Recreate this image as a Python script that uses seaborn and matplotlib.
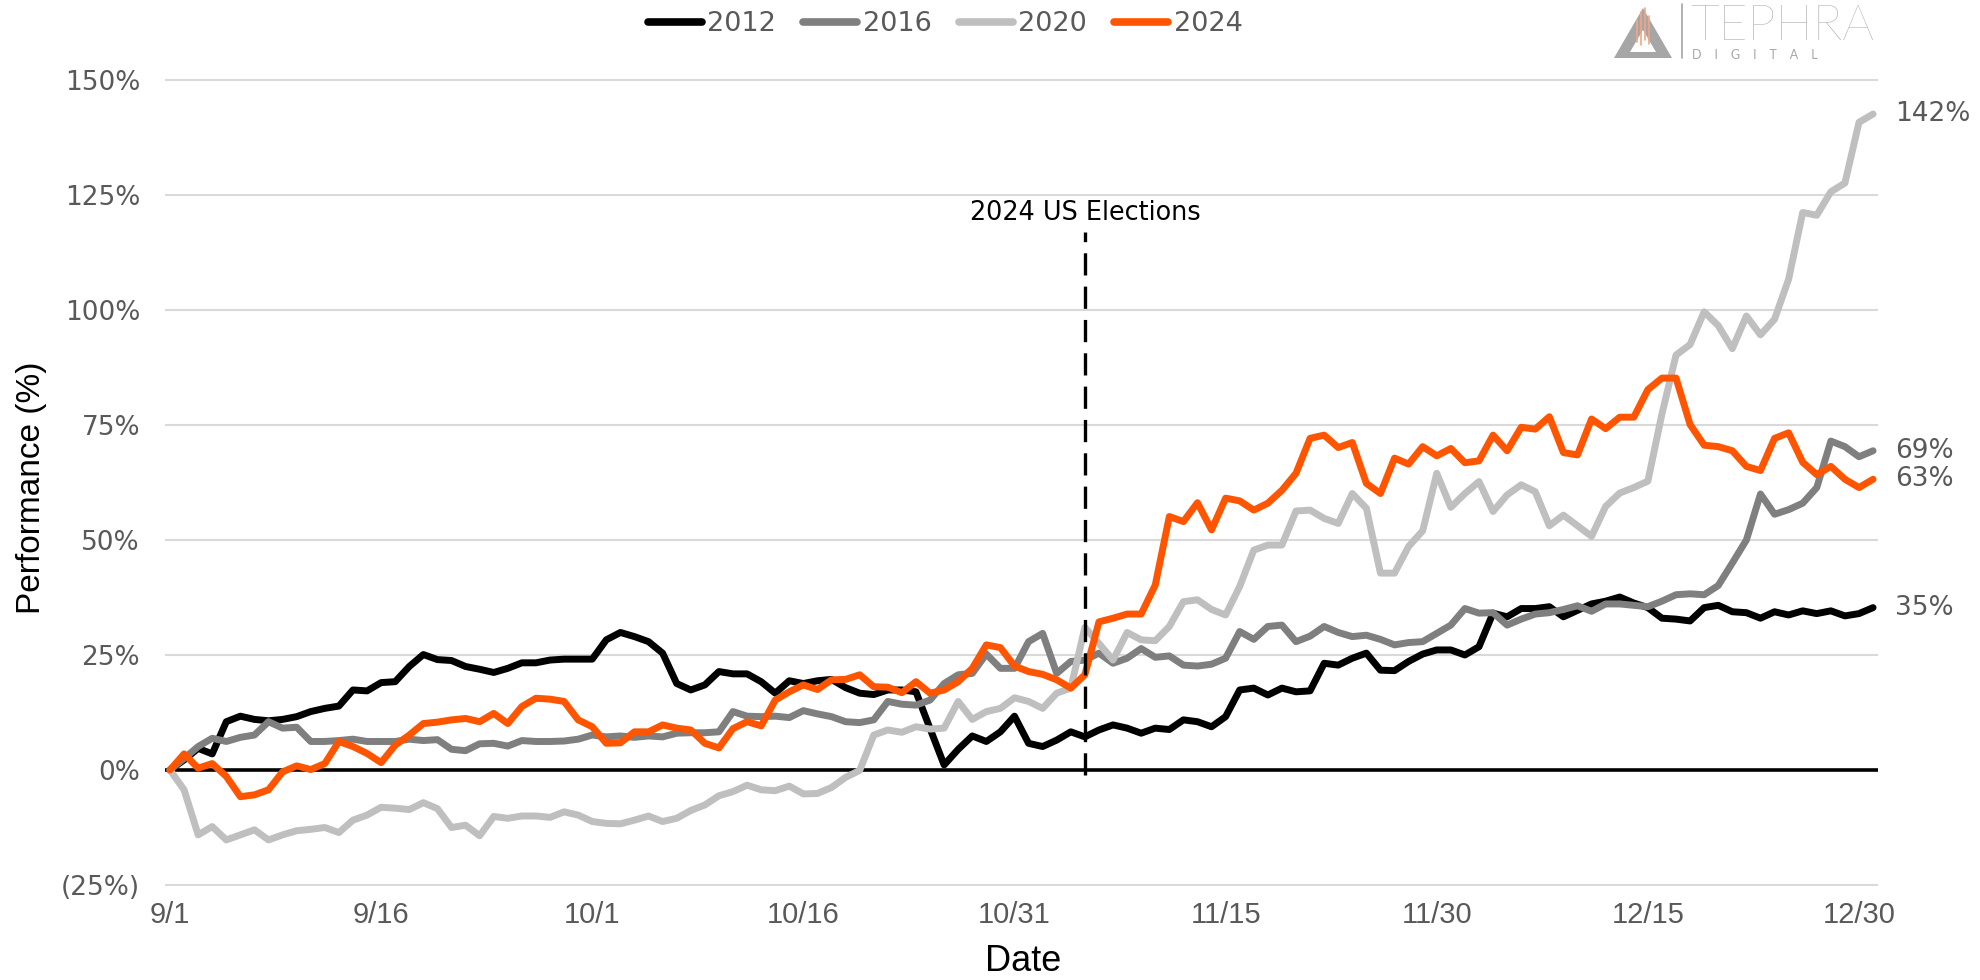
import matplotlib
matplotlib.use("Agg")
import matplotlib.pyplot as plt
import seaborn as sns
import pandas as pd
import numpy as np
from matplotlib import font_manager
from matplotlib.patches import Polygon
from matplotlib.lines import Line2D

# ---------------- data ----------------
n_days = 122
days = list(range(n_days))

y2012 = [0, 2.2, 4.7, 3.5, 10.5, 11.7, 11.0, 10.7, 11.0, 11.6,
         12.7, 13.4, 13.9, 17.4, 17.2, 19.0, 19.2, 22.5, 25.1, 24.0,
         23.8, 22.5, 21.9, 21.2, 22.1, 23.3, 23.3, 23.9, 24.1, 24.1,
         24.1, 28.3, 29.9, 29.0, 27.9, 25.4, 18.8, 17.4, 18.5, 21.4,
         20.9, 20.9, 19.2, 16.7, 19.4, 18.8, 19.4, 19.7, 17.9, 16.7,
         16.4, 17.4, 17.4, 17.0, 9.0, 1.1, 4.5, 7.4, 6.2, 8.3,
         11.7, 5.8, 5.1, 6.5, 8.3, 7.2, 8.7, 9.8, 9.1, 8.0,
         9.1, 8.8, 10.9, 10.5, 9.4, 11.6, 17.4, 17.8, 16.3, 17.8,
         17.0, 17.2, 23.2, 22.8, 24.3, 25.4, 21.7, 21.6, 23.6, 25.2,
         26.1, 26.1, 25.0, 26.8, 34.1, 33.3, 35.1, 35.1, 35.5, 33.3,
         34.7, 36.1, 36.7, 37.6, 36.3, 35.3, 33.0, 32.8, 32.4, 35.3,
         35.8, 34.4, 34.2, 33.0, 34.4, 33.7, 34.6, 34.0, 34.6, 33.5,
         34.0, 35.3]

y2016 = [0, 2.5, 5.1, 6.9, 6.2, 7.1, 7.6, 10.5, 9.1, 9.3,
         6.2, 6.2, 6.4, 6.7, 6.2, 6.2, 6.2, 6.7, 6.4, 6.6,
         4.5, 4.2, 5.7, 5.8, 5.2, 6.4, 6.2, 6.2, 6.3, 6.7,
         7.6, 7.2, 7.4, 7.1, 7.4, 7.2, 8.0, 8.1, 8.1, 8.3,
         12.7, 11.7, 11.6, 11.7, 11.4, 12.9, 12.2, 11.6, 10.5, 10.3,
         10.9, 14.9, 14.3, 14.1, 15.2, 18.8, 20.7, 21.0, 25.2, 22.1,
         22.1, 27.9, 29.7, 21.0, 23.6, 23.9, 25.4, 23.2, 24.3, 26.4,
         24.5, 24.8, 22.8, 22.6, 23.0, 24.3, 30.1, 28.4, 31.2, 31.5,
         27.9, 29.1, 31.2, 29.9, 29.0, 29.3, 28.4, 27.2, 27.7, 27.9,
         29.7, 31.5, 35.1, 34.1, 34.2, 31.5, 32.8, 33.9, 34.2, 34.9,
         35.7, 34.5, 36.1, 36.1, 35.8, 35.5, 36.7, 38.1, 38.3, 38.1,
         40.1, 45.0, 50.0, 60.0, 55.6, 56.6, 58.0, 61.4, 71.5, 70.3,
         68.1, 69.4]

y2020 = [0, -4.3, -14.1, -12.3, -15.2, -14.1, -13.0, -15.2, -14.1, -13.2,
         -12.9, -12.5, -13.6, -10.9, -9.8, -8.1, -8.3, -8.6, -7.1, -8.4,
         -12.5, -12.0, -14.3, -10.1, -10.5, -10.0, -10.0, -10.3, -9.1, -9.8,
         -11.2, -11.6, -11.7, -10.9, -10.0, -11.2, -10.5, -8.8, -7.6, -5.6,
         -4.7, -3.3, -4.3, -4.5, -3.5, -5.2, -5.1, -3.8, -1.6, -0.1,
         7.6, 8.7, 8.2, 9.4, 8.9, 9.1, 14.9, 11.0, 12.7, 13.4,
         15.7, 14.9, 13.4, 16.7, 17.8, 31.0, 27.5, 23.9, 29.9, 28.3,
         28.1, 31.2, 36.6, 37.0, 34.9, 33.7, 39.9, 47.8, 48.9, 48.9,
         56.3, 56.5, 54.7, 53.6, 60.1, 56.9, 42.8, 42.8, 48.6, 52.0,
         64.5, 57.1, 60.1, 62.7, 56.2, 59.8, 62.0, 60.5, 53.1, 55.4,
         53.1, 50.8, 57.3, 60.2, 61.4, 62.8, 77.4, 90.2, 92.5, 99.6,
         96.6, 91.6, 98.7, 94.6, 98.0, 106.7, 121.2, 120.6, 125.7, 127.6,
         140.8, 142.6]

y2024 = [0, 3.5, 0.4, 1.4, -1.4, -5.8, -5.4, -4.3, -0.4, 0.9,
         0.1, 1.4, 6.2, 5.1, 3.6, 1.6, 5.4, 7.6, 10.1, 10.4,
         10.9, 11.2, 10.5, 12.3, 10.1, 13.8, 15.6, 15.4, 14.9, 10.9,
         9.4, 5.8, 5.9, 8.3, 8.3, 9.8, 9.1, 8.7, 5.8, 4.8,
         9.0, 10.5, 9.6, 15.2, 17.0, 18.5, 17.5, 19.6, 19.7, 20.7,
         18.1, 18.0, 16.8, 19.2, 16.7, 17.4, 19.2, 22.1, 27.2, 26.6,
         22.6, 21.4, 20.8, 19.6, 17.8, 20.7, 32.2, 33.0, 33.9, 33.9,
         40.2, 55.1, 54.0, 58.1, 52.2, 59.1, 58.5, 56.5, 58.0, 60.8,
         64.5, 72.1, 72.8, 70.1, 71.2, 62.3, 60.1, 67.8, 66.5, 70.3,
         68.3, 69.9, 66.8, 67.2, 72.8, 69.4, 74.5, 74.1, 76.8, 69.0,
         68.5, 76.3, 74.2, 76.7, 76.7, 82.7, 85.2, 85.2, 75.1, 70.6,
         70.3, 69.4, 66.0, 65.1, 72.1, 73.3, 66.9, 64.2, 66.0, 63.2,
         61.4, 63.2]

years = ["2012", "2016", "2020", "2024"]
end_labels = ["35%", "69%", "142%", "63%"]
x_tick_days = [0, 15, 30, 45, 60, 75, 90, 105, 120]
x_tick_labels = ["9/1", "9/16", "10/1", "10/16", "10/31", "11/15", "11/30", "12/15", "12/30"]
y_tick_vals = [-25, 0, 25, 50, 75, 100, 125, 150]
y_tick_labels = ["(25%)", "0%", "25%", "50%", "75%", "100%", "125%", "150%"]
election_day = 65
election_label = "2024 US Elections"

colors = {"2012": "#000000", "2016": "#7f7f7f", "2020": "#bfbfbf", "2024": "#ff5500"}

df = pd.DataFrame({
    "day": days * 4,
    "perf": y2012 + y2016 + y2020 + y2024,
    "year": np.repeat(years, n_days),
})

# ---------------- style ----------------
sns.set_theme(style="white")
plt.rcParams["font.family"] = ["DejaVu Sans"]
plt.rcParams["lines.scale_dashes"] = False

names = {f.name for f in font_manager.fontManager.ttflist}
sans2 = "Liberation Sans" if "Liberation Sans" in names else "DejaVu Sans"
logo_font = "Lato" if "Lato" in names else "DejaVu Sans"

W, H = 1980, 980
fig = plt.figure(figsize=(W / 100, H / 100), dpi=100)

# axes placement (pixel geometry of reference)
x0_px, x1_px = 165, 1878
ylo, yhi = -25.4, 150.4
px_per_pct = 115 / 25.0
y_bottom_px = 770 + (0 - ylo) * px_per_pct
y_top_px = 770 - yhi * px_per_pct
ax = fig.add_axes([x0_px / W, 1 - y_bottom_px / H, (x1_px - x0_px) / W,
                   (y_bottom_px - y_top_px) / H])

sns.lineplot(data=df, x="day", y="perf", hue="year", palette=colors,
             linewidth=5.0, ax=ax, legend=False, sort=False, zorder=3)
for ln in ax.lines:
    ln.set_solid_joinstyle("round")
    ln.set_solid_capstyle("round")

ax.set_xlim(-0.355, 121.35)
ax.set_ylim(ylo, yhi)

for s in ax.spines.values():
    s.set_visible(False)

ax.set_yticks(y_tick_vals)
ax.set_yticklabels(y_tick_labels)
ax.set_xticks(x_tick_days)
ax.set_xticklabels(x_tick_labels)
ax.tick_params(axis="y", length=0, pad=18, labelsize=19, labelcolor="#595959")
ax.tick_params(axis="x", length=0, pad=10, labelsize=21, labelcolor="#595959")
for t in ax.get_xticklabels():
    t.set_fontfamily(sans2)

ax.grid(False)
for v in y_tick_vals:
    if v != 0:
        ax.axhline(v, color="#d9d9d9", lw=1.5, zorder=1)
ax.axhline(0, color="black", lw=2.6, zorder=2)

# election marker
ax.vlines(election_day, -1, 117, colors="black", lw=2.4,
          linestyles=[(0, (16, 8))], zorder=4)
ax.text(election_day, 121, election_label, ha="center", va="center",
        fontsize=18.4, color="black", zorder=5)

# end labels
series = [y2012, y2016, y2020, y2024]
for vals, lab in zip(series, end_labels):
    ax.annotate(lab, xy=(days[-1], vals[-1]), xytext=(22, 0),
                textcoords="offset pixels", ha="left", va="center",
                fontsize=19, color="#595959", annotation_clip=False)

ax.set_xlabel("")
ax.set_ylabel("")
fig.text(1023 / W, 1 - 961 / H, "Date", ha="center", va="center",
         fontsize=26, family=sans2, color="black")
fig.text(32 / W, 1 - 488 / H, "Performance (%)", ha="center", va="center",
         rotation=90, fontsize=24, family=sans2, color="black")

# legend
handles = [Line2D([0], [0], color=colors[y], lw=5.5, solid_capstyle="round") for y in years]
fig.legend(handles, years, loc="center", bbox_to_anchor=(945 / W, 1 - 24 / H),
           ncol=4, frameon=False, fontsize=19.5, handlelength=2.0,
           handletextpad=0.2, columnspacing=1.0, labelcolor="#595959")

# logo
tri_outer = Polygon([(1614 / W, 1 - 58 / H), (1643 / W, 1 - 8 / H), (1672 / W, 1 - 58 / H)],
                    closed=True, transform=fig.transFigure, facecolor="#a6a6a6",
                    edgecolor="none")
tri_inner = Polygon([(1630 / W, 1 - 52 / H), (1643 / W, 1 - 30 / H), (1656 / W, 1 - 52 / H)],
                    closed=True, transform=fig.transFigure, facecolor="white",
                    edgecolor="none")
fig.patches.extend([tri_outer, tri_inner])
for xo, yt, yb in [(1637, 20, 42), (1641, 12, 45), (1645, 8, 40), (1649, 16, 44)]:
    fig.add_artist(Line2D([xo / W, xo / W], [1 - yt / H, 1 - yb / H],
                          transform=fig.transFigure, color="#f4a582", lw=1.2))
fig.add_artist(Line2D([1682 / W, 1682 / W], [1 - 4 / H, 1 - 58 / H],
                      transform=fig.transFigure, color="#a6a6a6", lw=1.2))
fig.text(1690 / W, 1 - 26 / H, "TEPHRA", ha="left", va="center", fontsize=36,
         family=logo_font, fontweight="light", color="#a6a6a6")
fig.text(1692 / W, 1 - 55 / H, "D    I    G    I    T    A    L", ha="left", va="center",
         fontsize=9, family=logo_font, color="#a6a6a6")

fig.savefig("out.png", dpi=100, facecolor="white")
